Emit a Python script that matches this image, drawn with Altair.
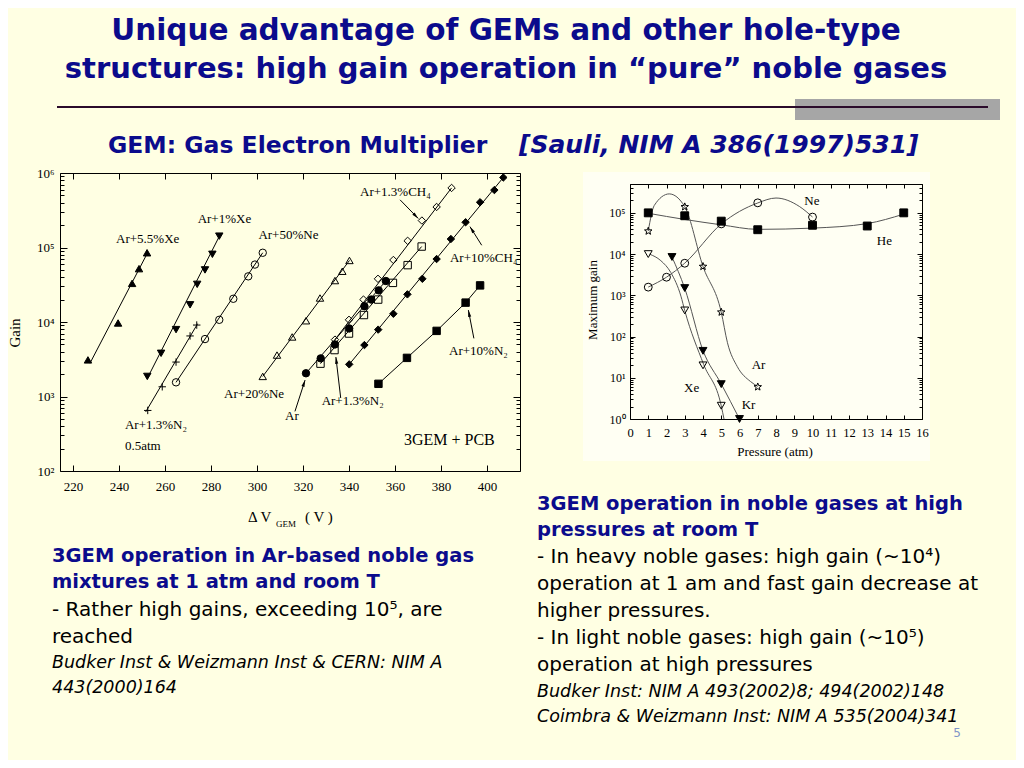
import math
import altair as alt
import pandas as pd

W, H = 1008, 752          # whole drawing (page is 1024x768 with an 8px margin)
BG = "#FFFFE3"
NAVY = "#0B0B8C"

# ---------------- slide texts ----------------
TITLE_LINES = ["Unique advantage of GEMs and other hole-type",
               "structures: high gain operation in \u201cpure\u201d noble gases"]
SUBTITLE_A = "GEM: Gas Electron Multiplier"
SUBTITLE_B = "[Sauli, NIM A 386(1997)531]"
LEFT_HEAD = ["3GEM operation in Ar-based noble gas", "mixtures at 1 atm and room T"]
LEFT_BODY = ["- Rather high gains, exceeding 10\u2075, are", "reached"]
LEFT_REF = ["Budker Inst & Weizmann Inst & CERN: NIM A", "443(2000)164"]
RIGHT_HEAD = ["3GEM operation in noble gases at high", "pressures at room T"]
RIGHT_BODY = ["- In heavy noble gases: high gain (~10\u2074)",
              "operation at 1 am and fast gain decrease at",
              "higher pressures.",
              "- In light noble gases: high gain (~10\u2075)",
              "operation at high pressures"]
RIGHT_REF = ["Budker Inst: NIM A 493(2002)8; 494(2002)148",
             "Coimbra & Weizmann Inst: NIM A 535(2004)341"]
PAGE_NO = "5"

# ---------------- left chart: gain vs DeltaV_GEM ----------------
L_SERIES = ["Ar+5.5%Xe", "Ar+1%Xe", "Ar+1.3%N2 0.5atm", "Ar+50%Ne", "Ar+20%Ne",
            "Ar", "Ar+1.3%CH4", "Ar+1.3%N2", "Ar+10%CH4", "Ar+10%N2"]
L_V = [
    [226.5, 239.6, 245.7, 248.7, 252.2],
    [252.3, 258.3, 264.8, 270.9, 274.0, 277.4, 280.6, 283.6],
    [252.5, 258.8, 264.8, 270.9, 273.8],
    [264.8, 277.4, 283.6, 289.7, 296.2, 299.1, 302.5],
    [302.5, 308.7, 315.3, 321.3, 327.4, 333.9, 337.1, 340.2],
    [321.3, 327.7, 333.9, 340.1, 346.7, 349.7, 352.9, 356.0],
    [333.9, 340.0, 346.3, 352.6, 359.3, 365.5, 371.7, 378.1, 384.6],
    [327.6, 333.7, 340.0, 346.5, 352.7, 359.1, 365.5, 371.6],
    [340.1, 346.7, 352.7, 359.3, 365.4, 371.9, 378.1, 384.3, 390.7, 397.0, 403.2, 407.1],
    [352.8, 365.2, 378.1, 390.7, 397.0],
]
L_G = [
    [3100, 9700, 33000, 52000, 85000],
    [1860, 3800, 7900, 17000, 32000, 50000, 81000, 142000],
    [650, 1350, 2900, 6500, 9100],
    [1550, 5900, 10700, 20500, 41000, 59000, 85000],
    [1860, 3600, 6300, 10400, 21000, 36000, 48000, 67000],
    [2050, 3250, 5000, 8200, 16300, 20000, 26600, 35500],
    [5800, 10700, 20000, 38000, 68000, 123000, 230000, 350000, 630000],
    [2760, 4200, 7000, 12400, 20000, 33500, 58000, 103000],
    [2700, 4900, 7900, 12900, 23500, 38000, 70000, 130000, 218000, 405000, 590000, 870000],
    [1480, 3300, 7600, 18200, 31000],
]
# fitted straight lines (end points)
L_FIT_V = [[227.4, 252.6], [252.5, 283.8], [251.6, 274.2], [264.8, 302.5], [302.5, 340.2],
           [321.3, 356.0], [333.9, 384.6], [327.6, 371.6], [340.1, 407.1], None]
L_FIT_G = [[2800, 87000], [1800, 145000], [620, 9500], [1550, 85000], [1860, 67000],
           [2050, 35500], [5800, 630000], [2760, 103000], [2700, 870000], None]

L_LABELS = ["Ar+1.3%CH\u2084", "Ar+1%Xe", "Ar+5.5%Xe", "Ar+50%Ne", "Ar+10%CH\u2084",
            "Ar+10%N\u2082", "Ar+20%Ne", "Ar", "Ar+1.3%N\u2082", "Ar+1.3%N\u2082", "0.5atm"]
L_LABEL_V = [344.8, 274.2, 238.7, 300.6, 383.9, 383.5, 285.7, 312.2, 328.1, 242.6, 242.6]
L_LABEL_G = [495000, 215000, 116000, 129000, 63000, 3600, 946, 484, 769, 363, 191]
L_NOTE = "3GEM + PCB"
L_NOTE_V, L_NOTE_G = 363.9, 223

# arrows: tail -> head
L_ARROW_V0 = [362.2, 397.7, 394.3, 316.5, 336.4]
L_ARROW_G0 = [10 ** 5.64, 10 ** 5.03, 10 ** 3.78, 10 ** 2.80, 10 ** 2.98]
L_ARROW_V1 = [370.1, 392.6, 391.9, 320.9, 334.3]
L_ARROW_G1 = [10 ** 5.39, 10 ** 5.28, 10 ** 4.16, 10 ** 3.22, 10 ** 3.53]

L_XTICKS = [220, 240, 260, 280, 300, 320, 340, 360, 380, 400]

# ---------------- right chart: maximum gain vs pressure ----------------
R_SERIES = ["Ne", "He", "Ar", "Xe", "Kr"]
R_P = [[1, 2, 3, 5, 7, 10],
       [1, 3, 5, 7, 10, 13, 15],
       [1, 3, 4, 5, 7],
       [1, 3, 4, 5],
       [2.3, 3, 4, 5, 6]]
R_G = [[1580, 2750, 6000, 54000, 175000, 79000],
       [100000, 85000, 63000, 39000, 50000, 48000, 100000],
       [36000, 140000, 5000, 390, 6],
       [10000, 430, 20, 2.1],
       [8500, 1500, 45, 7, 1]]
# drawn guide curves
R_CURVE_P = [[1, 2, 3, 5, 7, 8.0, 9.3, 10],
             [1, 3, 5, 7, 10, 13, 15],
             [1, 1.33, 2.15, 3, 4, 5, 5.34, 5.88, 6.6, 7],
             [1.06, 1.69, 2.24, 2.79, 3.0, 4.04, 5, 5.15],
             [2.3, 3, 4, 5, 6]]
R_CURVE_LOGG = [[3.2, 3.44, 3.78, 4.73, 5.24, 5.36, 5.15, 4.9],
                [4.99, 4.84, 4.71, 4.6, 4.63, 4.74, 4.97],
                [4.56, 5.18, 5.46, 5.15, 3.7, 2.59, 1.85, 1.27, 0.91, 0.79],
                [4.0, 3.84, 3.55, 2.98, 2.63, 1.32, 0.32, 0.0],
                [3.93, 3.17, 1.66, 0.85, 0.0]]
R_LABELS = ["Ne", "He", "Ar", "Xe", "Kr"]
R_LABEL_P = [9.55, 13.52, 6.67, 2.96, 6.12]
R_LABEL_LOGG = [5.19, 4.22, 1.21, 0.66, 0.24]
R_XTICKS = list(range(0, 17))

# ---------------- scales (plot rectangles in drawing pixels) ----------------
LX_DOM, LX_RNG = [214.35, 414.35], [52, 512]
LY_DOM, LY_RNG = [1e2, 1e6], [463, 165]
RX_DOM, RX_RNG = [0, 16], [622, 914]
RY_DOM, RY_RNG = [1, 10 ** 5.7], [411, 176]
LX = alt.Scale(domain=LX_DOM, range=LX_RNG)
LY = alt.Scale(type="log", domain=LY_DOM, range=LY_RNG)
RX = alt.Scale(domain=RX_DOM, range=RX_RNG)
RY = alt.Scale(type="log", domain=RY_DOM, range=RY_RNG)


def lin_px(v, dom, rng):
    return rng[0] + (v - dom[0]) / (dom[1] - dom[0]) * (rng[1] - rng[0])


def log_px(v, dom, rng):
    a, b = math.log10(dom[0]), math.log10(dom[1])
    return rng[0] + (math.log10(v) - a) / (b - a) * (rng[1] - rng[0])


PLUS = "M-1,0L1,0M0,-1L0,1"
_star = []
for i in range(10):
    r = 1.0 if i % 2 == 0 else 0.42
    a = -math.pi / 2 + i * math.pi / 5
    _star.append(f"{r * math.cos(a):.3f},{r * math.sin(a):.3f}")
STAR = "M" + "L".join(_star) + "Z"
HEAD = "M0,0L0.8,3.4L-0.8,3.4Z"

L_SHAPES = ["triangle-up", "triangle-down", PLUS, "circle", "triangle-up",
            "circle", "diamond", "square", "diamond", "square"]
L_FILLS = ["black", "black", "transparent", "transparent", "transparent",
           "black", "transparent", "transparent", "black", "black"]
L_SIZES = [55, 55, 45, 42, 50, 42, 45, 36, 45, 36]
R_SHAPES = ["circle", "square", STAR, "triangle-down", "triangle-down"]
R_FILLS = ["transparent", "black", "transparent", "transparent", "black"]

# ---------------- data frames ----------------
l_pts = pd.DataFrame([{"series": s, "V": v, "G": g}
                      for s, vs, gs in zip(L_SERIES, L_V, L_G) for v, g in zip(vs, gs)])
fit_rows = []
for s, fv, fg, vs, gs in zip(L_SERIES, L_FIT_V, L_FIT_G, L_V, L_G):
    if fv is None:
        fv, fg = vs, gs
    for i, (v, g) in enumerate(zip(fv, fg)):
        fit_rows.append({"series": s, "V": v, "G": g, "o": i})
l_fit = pd.DataFrame(fit_rows)
l_lab = pd.DataFrame({"t": L_LABELS, "V": L_LABEL_V, "G": L_LABEL_G})
l_note = pd.DataFrame({"t": [L_NOTE], "V": [L_NOTE_V], "G": [L_NOTE_G]})
arr_rows = []
for v0, g0, v1, g1 in zip(L_ARROW_V0, L_ARROW_G0, L_ARROW_V1, L_ARROW_G1):
    dx = lin_px(v1, LX_DOM, LX_RNG) - lin_px(v0, LX_DOM, LX_RNG)
    dy = log_px(g1, LY_DOM, LY_RNG) - log_px(g0, LY_DOM, LY_RNG)
    ang = math.degrees(math.atan2(dx, -dy)) % 360
    arr_rows.append({"V0": v0, "G0": g0, "V1": v1, "G1": g1, "ang": ang})
l_arr = pd.DataFrame(arr_rows)

r_pts = pd.DataFrame([{"series": s, "P": p, "G": g}
                      for s, ps, gs in zip(R_SERIES, R_P, R_G) for p, g in zip(ps, gs)])
r_cur = pd.DataFrame([{"series": s, "P": p, "G": 10 ** lg, "o": i}
                      for s, ps, lgs in zip(R_SERIES, R_CURVE_P, R_CURVE_LOGG)
                      for i, (p, lg) in enumerate(zip(ps, lgs))])
r_lab = pd.DataFrame({"t": R_LABELS, "P": R_LABEL_P, "G": [10 ** v for v in R_LABEL_LOGG]})

ONE = pd.DataFrame({"k": [0]})
layers = []


def text_px(s, x, y, size, color="black", weight="normal", style="normal",
            font="DejaVu Sans", align="left", angle=0):
    return alt.Chart(ONE).mark_text(
        text=s, align=align, baseline="alphabetic", fontSize=size, font=font,
        fontWeight=weight, fontStyle=style, color=color, angle=angle
    ).encode(x=alt.value(x - 8), y=alt.value(y - 8))


# ---------------- slide decoration and titles ----------------
layers.append(alt.Chart(ONE).mark_rect(color="#A6A6A6").encode(
    x=alt.value(787), x2=alt.value(992), y=alt.value(91), y2=alt.value(112)))
layers.append(alt.Chart(ONE).mark_rule(color="#2B0B2B", strokeWidth=2).encode(
    x=alt.value(49), x2=alt.value(980), y=alt.value(99)))
layers.append(text_px(TITLE_LINES[0], 506, 40, 29.5, NAVY, "bold", align="center"))
layers.append(text_px(TITLE_LINES[1], 506, 78, 29, NAVY, "bold", align="center"))
layers.append(text_px(SUBTITLE_A, 108, 153, 23.5, NAVY, "bold"))
layers.append(text_px(SUBTITLE_B, 519, 153, 25, NAVY, "bold", "italic"))

# ---------------- left chart ----------------
layers.append(alt.Chart(l_fit).mark_line(color="black", strokeWidth=1).encode(
    x=alt.X("V:Q", scale=LX, axis=None), y=alt.Y("G:Q", scale=LY, axis=None),
    detail="series:N", order="o:Q"))
layers.append(alt.Chart(l_pts).mark_point(filled=False, stroke="black", strokeWidth=1,
                                          opacity=1).encode(
    x=alt.X("V:Q", scale=LX, axis=None), y=alt.Y("G:Q", scale=LY, axis=None),
    shape=alt.Shape("series:N", scale=alt.Scale(domain=L_SERIES, range=L_SHAPES), legend=None),
    fill=alt.Fill("series:N", scale=alt.Scale(domain=L_SERIES, range=L_FILLS), legend=None),
    size=alt.Size("series:N", scale=alt.Scale(domain=L_SERIES, range=L_SIZES), legend=None)))
layers.append(alt.Chart(l_arr).mark_rule(color="black", strokeWidth=1).encode(
    x=alt.X("V0:Q", scale=LX, axis=None), y=alt.Y("G0:Q", scale=LY, axis=None),
    x2="V1:Q", y2="G1:Q"))
layers.append(alt.Chart(l_arr).mark_point(shape=HEAD, filled=True, color="black",
                                          size=16, opacity=1).encode(
    x=alt.X("V1:Q", scale=LX, axis=None), y=alt.Y("G1:Q", scale=LY, axis=None),
    angle=alt.Angle("ang:Q", scale=None)))
layers.append(alt.Chart(l_lab).mark_text(align="left", baseline="alphabetic", fontSize=13,
                                         font="Liberation Serif", color="black").encode(
    x=alt.X("V:Q", scale=LX, axis=None), y=alt.Y("G:Q", scale=LY, axis=None), text="t:N"))
layers.append(alt.Chart(l_note).mark_text(align="left", baseline="alphabetic", fontSize=16,
                                          font="Liberation Serif", color="black").encode(
    x=alt.X("V:Q", scale=LX, axis=None), y=alt.Y("G:Q", scale=LY, axis=None), text="t:N"))

SUP = "['10\u2070','10\u00b9','10\u00b2','10\u00b3','10\u2074','10\u2075','10\u2076']"
SUP_EXPR = SUP + "[round(log(datum.value)/LN10)]"


def ax_layer(df, field, ch, scale, **kw):
    opts = dict(grid=False, title=None, labels=False, ticks=False, domain=False,
                tickColor="black", domainColor="black", labelColor="black",
                tickWidth=1, domainWidth=1, zindex=1, labelFlush=False)
    opts.update(kw)
    enc = (alt.X if ch == "x" else alt.Y)(f"{field}:Q", scale=scale, axis=alt.Axis(**opts))
    return alt.Chart(df).mark_point(opacity=0).encode(**{ch: enc})


l_dec = [1e2, 1e3, 1e4, 1e5, 1e6]
l_min = [m * 10 ** e for e in range(2, 6) for m in range(2, 10)]
lx_left, lx_right = LX_RNG
ly_bot, ly_top = LY_RNG
# y axis (ticks inside) left and right
layers.append(ax_layer(l_pts, "G", "y", LY, orient="right", offset=lx_left - W, values=l_dec,
                       ticks=True, tickSize=7, domain=True))
layers.append(ax_layer(l_pts, "G", "y", LY, orient="right", offset=lx_left - W, values=l_min,
                       ticks=True, tickSize=4))
layers.append(ax_layer(l_pts, "G", "y", LY, orient="left", offset=-lx_left, values=l_dec,
                       labels=True, tickSize=0, labelPadding=6, labelExpr=SUP_EXPR,
                       labelFont="Liberation Serif", labelFontSize=13))
layers.append(ax_layer(l_pts, "G", "y", LY, orient="left", offset=-lx_right, values=l_dec,
                       ticks=True, tickSize=7, domain=True))
layers.append(ax_layer(l_pts, "G", "y", LY, orient="left", offset=-lx_right, values=l_min,
                       ticks=True, tickSize=4))
# x axis (ticks inside) bottom and top
layers.append(ax_layer(l_pts, "V", "x", LX, orient="top", offset=-ly_bot, values=L_XTICKS,
                       ticks=True, tickSize=6, domain=True))
layers.append(ax_layer(l_pts, "V", "x", LX, orient="bottom", offset=ly_top - H, values=L_XTICKS,
                       ticks=True, tickSize=6, domain=True))
layers.append(ax_layer(l_pts, "V", "x", LX, orient="bottom", offset=ly_bot - H, values=L_XTICKS,
                       labels=True, tickSize=0, labelPadding=9, format="d",
                       labelFont="Liberation Serif", labelFontSize=13))
# left axis titles
layers.append(text_px("Gain", 20, 333, 15, font="Liberation Serif", align="center", angle=270))
layers.append(text_px("\u0394 V", 248, 522, 15, font="Liberation Serif"))
layers.append(text_px("GEM", 276, 527, 9, font="Liberation Serif"))
layers.append(text_px("( V )", 305, 522, 15, font="Liberation Serif"))

# ---------------- right chart ----------------
layers.append(alt.Chart(ONE).mark_rect(color="#FFFFF3").encode(
    x=alt.value(575), x2=alt.value(922), y=alt.value(164), y2=alt.value(453)))
layers.append(alt.Chart(r_cur).mark_line(color="#555555", strokeWidth=1,
                                         interpolate="monotone").encode(
    x=alt.X("P:Q", scale=RX, axis=None), y=alt.Y("G:Q", scale=RY, axis=None),
    detail="series:N", order="o:Q"))
layers.append(alt.Chart(r_pts).mark_point(filled=False, stroke="black", strokeWidth=1,
                                          opacity=1, size=62).encode(
    x=alt.X("P:Q", scale=RX, axis=None), y=alt.Y("G:Q", scale=RY, axis=None),
    shape=alt.Shape("series:N", scale=alt.Scale(domain=R_SERIES, range=R_SHAPES), legend=None),
    fill=alt.Fill("series:N", scale=alt.Scale(domain=R_SERIES, range=R_FILLS), legend=None)))
layers.append(alt.Chart(r_lab).mark_text(align="left", baseline="alphabetic", fontSize=13,
                                         font="Liberation Serif", color="black").encode(
    x=alt.X("P:Q", scale=RX, axis=None), y=alt.Y("G:Q", scale=RY, axis=None), text="t:N"))

r_dec = [1, 1e1, 1e2, 1e3, 1e4, 1e5]
r_min = [m * 10 ** e for e in range(0, 6) for m in range(2, 10) if m * 10 ** e < 10 ** 5.7]
rx_left, rx_right = RX_RNG
ry_bot, ry_top = RY_RNG
layers.append(ax_layer(r_pts, "G", "y", RY, orient="right", offset=rx_left - W, values=r_dec,
                       ticks=True, tickSize=5, domain=True))
layers.append(ax_layer(r_pts, "G", "y", RY, orient="right", offset=rx_left - W, values=r_min,
                       ticks=True, tickSize=3))
layers.append(ax_layer(r_pts, "G", "y", RY, orient="left", offset=-rx_left, values=r_dec,
                       labels=True, tickSize=0, labelPadding=5, labelExpr=SUP_EXPR,
                       labelFont="Liberation Serif", labelFontSize=12))
layers.append(ax_layer(r_pts, "G", "y", RY, orient="left", offset=-rx_right, values=r_dec,
                       ticks=True, tickSize=5, domain=True))
layers.append(ax_layer(r_pts, "G", "y", RY, orient="left", offset=-rx_right, values=r_min,
                       ticks=True, tickSize=3))
layers.append(ax_layer(r_pts, "P", "x", RX, orient="top", offset=-ry_bot, values=R_XTICKS,
                       ticks=True, tickSize=4, domain=True))
layers.append(ax_layer(r_pts, "P", "x", RX, orient="bottom", offset=ry_top - H, values=R_XTICKS,
                       ticks=True, tickSize=4, domain=True))
layers.append(ax_layer(r_pts, "P", "x", RX, orient="bottom", offset=ry_bot - H, values=R_XTICKS,
                       labels=True, tickSize=0, labelPadding=7, format="d",
                       labelFont="Liberation Serif", labelFontSize=12.5))
layers.append(text_px("Maximum gain", 597, 300, 13, font="Liberation Serif", align="center",
                      angle=270))
layers.append(text_px("Pressure (atm)", 775, 456, 13, font="Liberation Serif", align="center"))

# ---------------- paragraphs ----------------
for s, y in zip(LEFT_HEAD, [562, 588]):
    layers.append(text_px(s, 52, y, 19.5, NAVY, "bold"))
for s, y in zip(LEFT_BODY, [616, 643]):
    layers.append(text_px(s, 52, y, 20))
for s, y in zip(LEFT_REF, [668, 693]):
    layers.append(text_px(s, 52, y, 17.5, style="italic"))
for s, y in zip(RIGHT_HEAD, [510, 536]):
    layers.append(text_px(s, 537, y, 19.5, NAVY, "bold"))
for s, y in zip(RIGHT_BODY, [563, 590, 617, 644, 671]):
    layers.append(text_px(s, 537, y, 20))
for s, y in zip(RIGHT_REF, [697, 722]):
    layers.append(text_px(s, 537, y, 17.5, style="italic"))
layers.append(text_px(PAGE_NO, 957, 737, 12, "#7F95C8", align="center"))

chart = alt.layer(*layers).resolve_scale(
    x="independent", y="independent", shape="independent", fill="independent",
    size="independent"
).properties(
    width=W, height=H, autosize=alt.AutoSizeParams(type="none"), padding=0, background=BG
).configure_view(strokeWidth=0)

chart.save("out.html", embed_options={"renderer": "svg", "actions": False})
